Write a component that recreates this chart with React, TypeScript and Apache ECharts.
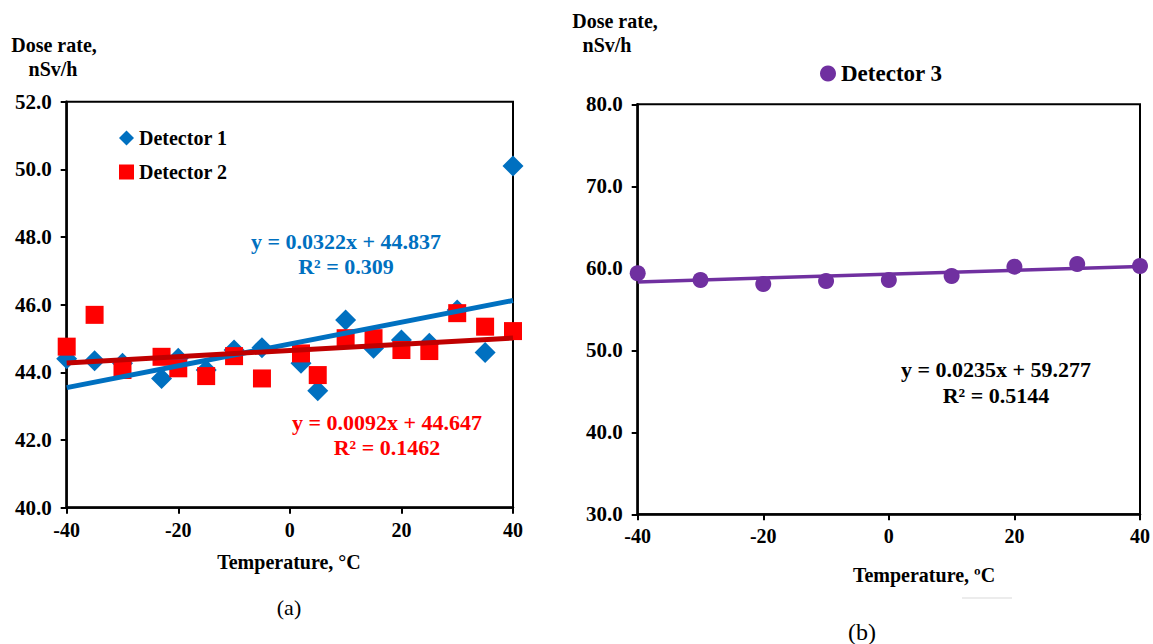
import React, { useEffect, useRef } from "react";
import * as echarts from "echarts";

// ---- Data ----
const TEMP_A = [-40, -35, -30, -23, -20, -15, -10, -5, 2, 5, 10, 15, 20, 25, 30, 35, 40];
const DETECTOR_1 = [44.4, 44.34, 44.27, 43.82, 44.42, 44.07, 44.66, 44.73, 44.27, 43.46, 45.55, 44.71, 44.96, 44.86, 45.84, 44.59, 50.1];
const DETECTOR_2 = [44.76, 45.7, 44.07, 44.46, 44.12, 43.89, 44.48, 43.82, 44.56, 43.92, 45.01, 45.01, 44.66, 44.63, 45.75, 45.35, 45.22];
const TEMP_B = [-40, -30, -20, -10, 0, 10, 20, 30, 40];
const DETECTOR_3 = [59.39, 58.57, 58.09, 58.45, 58.57, 59.06, 60.2, 60.52, 60.28];

const TREND_1 = { slope: 0.0322, intercept: 44.837 };
const TREND_2 = { slope: 0.0092, intercept: 44.647 };
const TREND_3 = { slope: 0.0235, intercept: 59.277 };
const TREND_X = [-40, 40];

const X_TICKS = { min: -40, max: 40, interval: 20 };
const Y_TICKS_A = { min: 40, max: 52, interval: 2 };
const Y_TICKS_B = { min: 30, max: 80, interval: 10 };

const EQ_1 = ["y = 0.0322x + 44.837", "R² = 0.309"];
const EQ_2 = ["y = 0.0092x + 44.647", "R² = 0.1462"];
const EQ_3 = ["y = 0.0235x + 59.277", "R² = 0.5144"];

const FONT = "'Liberation Serif', 'Times New Roman', serif";
const BLUE = "#0070C0";
const RED = "#FF0000";
const DARKRED = "#C00000";
const PURPLE = "#7030A0";

const trend = (t: { slope: number; intercept: number }) =>
  TREND_X.map((x) => [x, t.intercept + t.slope * x]);

function xAxis(gridIndex: number) {
  return {
    type: "value",
    gridIndex,
    min: X_TICKS.min,
    max: X_TICKS.max,
    interval: X_TICKS.interval,
    axisLine: { show: true, onZero: false, lineStyle: { color: "#000", width: 2.5 } },
    axisTick: { show: true, length: 6, lineStyle: { color: "#000", width: 2 } },
    axisLabel: { color: "#000", fontFamily: FONT, fontWeight: "bold", fontSize: 20, margin: 12 },
    splitLine: { show: false },
  };
}

function yAxis(gridIndex: number, t: { min: number; max: number; interval: number }) {
  return {
    type: "value",
    gridIndex,
    min: t.min,
    max: t.max,
    interval: t.interval,
    axisLine: { show: true, onZero: false, lineStyle: { color: "#000", width: 2.5 } },
    axisTick: { show: true, length: 6, lineStyle: { color: "#000", width: 2 } },
    axisLabel: {
      color: "#000",
      fontFamily: FONT,
      fontWeight: "bold",
      fontSize: 21,
      margin: 15,
      formatter: (v: number) => v.toFixed(1),
    },
    splitLine: { show: false },
  };
}

function txt(x: number, y: number, text: string, size: number, color = "#000", weight = "bold", align = "center") {
  return {
    type: "text",
    x,
    y,
    z: 100,
    style: {
      text,
      fill: color,
      font: `${weight} ${size}px ${FONT}`,
      align,
      verticalAlign: "middle",
    },
  };
}

export default function App() {
  const ref = useRef<HTMLDivElement>(null);

  useEffect(() => {
    if (!ref.current) return;
    const chart = echarts.init(ref.current, null, { renderer: "svg" });
    chart.setOption({
      animation: false,
      backgroundColor: "#fff",
      grid: [
        { left: 66.7, top: 101.7, width: 446.3, height: 406, show: true, borderColor: "#000", borderWidth: 2, backgroundColor: "transparent" },
        { left: 637.7, top: 104.3, width: 504.6, height: 410, show: true, borderColor: "#000", borderWidth: 2, backgroundColor: "transparent" },
      ],
      xAxis: [xAxis(0), xAxis(1)],
      yAxis: [yAxis(0, Y_TICKS_A), yAxis(1, Y_TICKS_B)],
      legend: [
        {
          data: ["Detector 1", "Detector 2"],
          orient: "vertical",
          left: 114,
          top: 123,
          itemGap: 14,
          itemWidth: 15,
          itemHeight: 15,
          textStyle: { color: "#000", fontFamily: FONT, fontWeight: "bold", fontSize: 20 },
        },
        {
          data: ["Detector 3"],
          left: 815,
          top: 57,
          itemWidth: 16,
          itemHeight: 16,
          textStyle: { color: "#000", fontFamily: FONT, fontWeight: "bold", fontSize: 23 },
        },
      ],
      series: [
        {
          name: "Detector 1",
          type: "scatter",
          xAxisIndex: 0,
          yAxisIndex: 0,
          symbol: "diamond",
          symbolSize: 21,
          itemStyle: { color: BLUE, opacity: 1 },
          data: TEMP_A.map((x, i) => [x, DETECTOR_1[i]]),
          z: 2,
        },
        {
          name: "Detector 2",
          type: "scatter",
          xAxisIndex: 0,
          yAxisIndex: 0,
          symbol: "rect",
          symbolSize: 18,
          itemStyle: { color: RED, opacity: 1 },
          data: TEMP_A.map((x, i) => [x, DETECTOR_2[i]]),
          z: 3,
        },
        {
          name: "Trend 1",
          type: "line",
          xAxisIndex: 0,
          yAxisIndex: 0,
          showSymbol: false,
          symbol: "none",
          lineStyle: { color: BLUE, width: 5 },
          data: trend(TREND_1),
          z: 4,
        },
        {
          name: "Trend 2",
          type: "line",
          xAxisIndex: 0,
          yAxisIndex: 0,
          showSymbol: false,
          symbol: "none",
          lineStyle: { color: DARKRED, width: 5 },
          data: trend(TREND_2),
          z: 5,
        },
        {
          name: "Trend 3",
          type: "line",
          xAxisIndex: 1,
          yAxisIndex: 1,
          showSymbol: false,
          symbol: "none",
          lineStyle: { color: PURPLE, width: 3.5 },
          data: trend(TREND_3),
          z: 3,
        },
        {
          name: "Detector 3",
          type: "scatter",
          xAxisIndex: 1,
          yAxisIndex: 1,
          symbol: "circle",
          symbolSize: 16,
          itemStyle: { color: PURPLE, opacity: 1 },
          data: TEMP_B.map((x, i) => [x, DETECTOR_3[i]]),
          z: 4,
        },
      ],
      graphic: [
        txt(54, 45, "Dose rate,", 20),
        txt(53, 69, "nSv/h", 20),
        txt(615, 21, "Dose rate,", 20),
        txt(607, 45, "nSv/h", 20),
        txt(346, 241, EQ_1[0], 22, BLUE),
        txt(346, 266, EQ_1[1], 22, BLUE),
        txt(387, 422, EQ_2[0], 22, RED),
        txt(387, 447, EQ_2[1], 22, RED),
        txt(996, 369, EQ_3[0], 22),
        txt(996, 395, EQ_3[1], 22),
        txt(289, 562, "Temperature, °C", 20),
        txt(924, 575, "Temperature, ºC", 20),
        txt(289, 607, "(a)", 22, "#000", "normal"),
        txt(862, 632, "(b)", 24, "#000", "normal"),
        {
          type: "line",
          shape: { x1: 962, y1: 598, x2: 1012, y2: 598 },
          style: { stroke: "#e6e6e6", lineWidth: 1.5 },
        },
      ],
    });
    return () => chart.dispose();
  }, []);

  return (
    <div
      ref={ref}
      style={{ position: "absolute", left: 0, top: 0, width: 1153, height: 644, background: "#fff" }}
    />
  );
}
